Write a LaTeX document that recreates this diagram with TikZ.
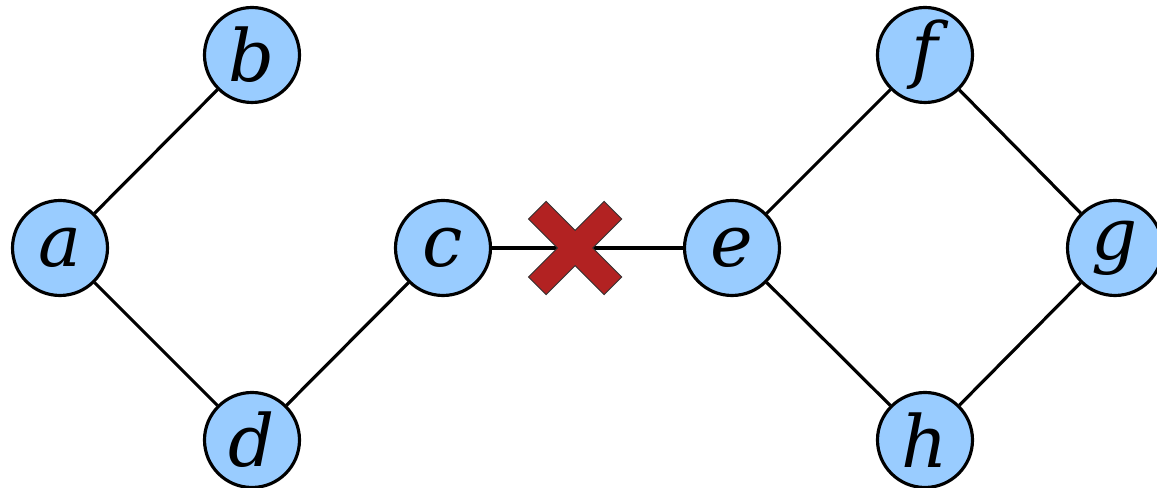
\documentclass[tikz,border=0pt]{standalone}
\usepackage{fontspec}
\setmainfont{DejaVu Serif}
\usepackage{tikz}
\usetikzlibrary{calc}
\definecolor{nodeblue}{HTML}{99CCFF}
\definecolor{cutred}{HTML}{B22222}

\begin{document}
\begin{tikzpicture}[
  vertex/.style={circle, draw=black, fill=nodeblue, line width=1.8pt,
    minimum size=1.9cm, inner sep=0pt, font=\fontsize{41}{43}\selectfont\itshape},
  link/.style={line width=1.8pt},
  cutmark/.style={fill=cutred, draw=black!80, line width=0.5pt, line join=miter},
]
  \useasboundingbox (0,0) rectangle (23.14,9.76);

  \node[vertex] (a) at (1.2,4.8) {a};
  \node[vertex] (b) at (5.04,8.66) {b};
  \node[vertex] (c) at (8.86,4.8) {c};
  \node[vertex] (d) at (5.04,0.96) {d};
  \node[vertex] (e) at (14.64,4.8) {e};
  \node[vertex] (f) at (18.5,8.66) {f};
  \node[vertex] (g) at (22.3,4.8) {g};
  \node[vertex] (h) at (18.5,0.96) {h};

  \draw[link] (a) -- (b);
  \draw[link] (a) -- (d);
  \draw[link] (d) -- (c);
  \draw[link] (c) -- (e);
  \draw[link] (e) -- (f);
  \draw[link] (e) -- (h);
  \draw[link] (f) -- (g);
  \draw[link] (h) -- (g);

  % broken edge
  \coordinate (cut) at ($(c)!0.457!(e)$);
  \draw[cutmark, shift={(cut)}, rotate=45]
    (0.25,0.25) -- (1.07,0.25) -- (1.07,-0.25) -- (0.25,-0.25)
    -- (0.25,-1.07) -- (-0.25,-1.07) -- (-0.25,-0.25) -- (-1.07,-0.25)
    -- (-1.07,0.25) -- (-0.25,0.25) -- (-0.25,1.07) -- (0.25,1.07) -- cycle;
\end{tikzpicture}
\end{document}
